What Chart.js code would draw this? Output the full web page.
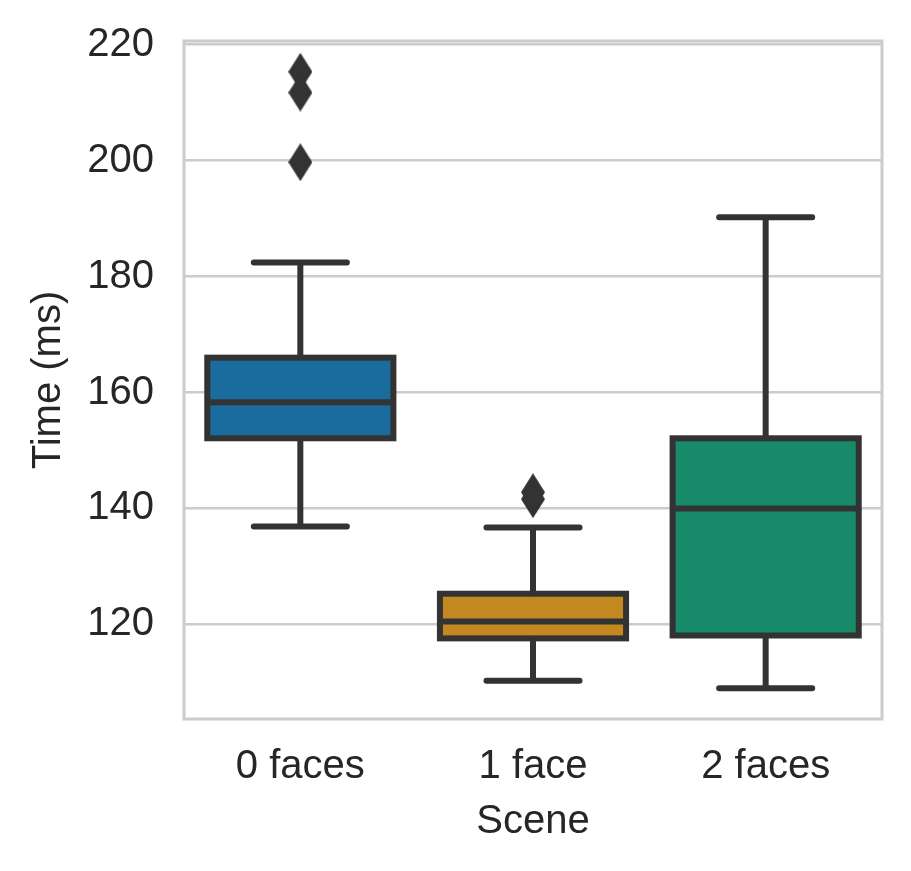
<!DOCTYPE html>
<html>
<head>
<meta charset="utf-8">
<script src="https://cdn.jsdelivr.net/npm/chart.js@4.4.1/dist/chart.umd.min.js"></script>
<style>
  html, body { margin: 0; padding: 0; background: #fff; }
  #wrap { width: 911px; height: 871px; }
</style>
</head>
<body>
<div id="wrap"><canvas id="box-chart" width="911" height="871"></canvas></div>
<script>
// Данные для боксплота
const scenes = ['0 faces', '1 face', '2 faces'];
const whiskerLow = [136.9, 110.3, 109.0];
const q1 = [152.1, 117.6, 118.1];
const median = [158.3, 120.5, 140.0];
const q3 = [166.0, 125.3, 152.1];
const whiskerHigh = [182.4, 136.7, 190.2];
const outlierScene = ['0 faces', '0 faces', '0 faces', '1 face', '1 face'];
const outlierValue = [215.3, 211.7, 199.7, 142.8, 141.6];
const yTicks = [120, 140, 160, 180, 200, 220];
const boxColors = ['#196c9c', '#c48820', '#178b6a'];

const lineColor = '#333333';
const textColor = '#262626';
const fontFamily = '"Liberation Sans", Arial, sans-serif';

// Тонкий ромб как у matplotlib ('d')
const diamond = document.createElement('canvas');
diamond.width = 24;
diamond.height = 38;
const dctx = diamond.getContext('2d');
dctx.fillStyle = lineColor;
dctx.beginPath();
dctx.moveTo(12, 0);
dctx.lineTo(24, 19);
dctx.lineTo(12, 38);
dctx.lineTo(0, 19);
dctx.closePath();
dctx.fill();

// Контур коробок, усы, медиана и рамка графика
const boxPlugin = {
  id: 'boxExtras',
  beforeDatasetsDraw(chart) {
    const {ctx, chartArea} = chart;
    ctx.save();
    ctx.strokeStyle = '#cccccc';
    ctx.lineWidth = 3;
    ctx.strokeRect(chartArea.left, chartArea.top, chartArea.right - chartArea.left, chartArea.bottom - chartArea.top);
    ctx.restore();
  },
  afterDatasetsDraw(chart) {
    const {ctx} = chart;
    const xs = chart.scales.x;
    const ys = chart.scales.y;
    const bars = chart.getDatasetMeta(0).data;
    ctx.save();
    ctx.strokeStyle = lineColor;
    ctx.lineWidth = 6;
    scenes.forEach((name, i) => {
      const cx = xs.getPixelForValue(i);
      const half = bars[i].width / 2;
      const yQ1 = ys.getPixelForValue(q1[i]);
      const yQ3 = ys.getPixelForValue(q3[i]);
      // контур коробки
      ctx.lineJoin = 'miter';
      ctx.strokeRect(cx - half, yQ3, half * 2, yQ1 - yQ3);
      // медиана
      ctx.lineCap = 'butt';
      ctx.beginPath();
      ctx.moveTo(cx - half, ys.getPixelForValue(median[i]));
      ctx.lineTo(cx + half, ys.getPixelForValue(median[i]));
      ctx.stroke();
      // усы
      ctx.beginPath();
      ctx.moveTo(cx, yQ3);
      ctx.lineTo(cx, ys.getPixelForValue(whiskerHigh[i]));
      ctx.moveTo(cx, yQ1);
      ctx.lineTo(cx, ys.getPixelForValue(whiskerLow[i]));
      ctx.stroke();
      // шапки усов
      ctx.lineCap = 'round';
      ctx.beginPath();
      ctx.moveTo(cx - half / 2, ys.getPixelForValue(whiskerHigh[i]));
      ctx.lineTo(cx + half / 2, ys.getPixelForValue(whiskerHigh[i]));
      ctx.moveTo(cx - half / 2, ys.getPixelForValue(whiskerLow[i]));
      ctx.lineTo(cx + half / 2, ys.getPixelForValue(whiskerLow[i]));
      ctx.stroke();
    });
    ctx.restore();
  }
};

const outliers = outlierScene.map((s, i) => ({x: s, y: outlierValue[i]}));

new Chart(document.getElementById('box-chart'), {
  type: 'bar',
  data: {
    labels: scenes,
    datasets: [{
      data: scenes.map((s, i) => [q1[i], q3[i]]),
      backgroundColor: boxColors,
      borderWidth: 0,
      barPercentage: 0.8,
      categoryPercentage: 1
    }, {
      type: 'scatter',
      data: outliers,
      pointStyle: diamond,
      pointRadius: 12,
      showLine: false
    }]
  },
  options: {
    responsive: false,
    animation: false,
    devicePixelRatio: 1,
    layout: { padding: { top: 41, right: 29, left: 0, bottom: 0 } },
    plugins: {
      legend: { display: false },
      tooltip: { enabled: false }
    },
    scales: {
      x: {
        grid: { display: false, drawTicks: false },
        border: { display: false },
        ticks: { color: textColor, padding: 24, font: { family: fontFamily, size: 40 } },
        title: {
          display: true, text: 'Scene', color: textColor,
          padding: { top: 0, bottom: 25 },
          font: { family: fontFamily, size: 40 }
        },
        afterFit(axis) {
          axis.height = 152;
          axis.paddingLeft = 0;
          axis.paddingRight = 0;
        }
      },
      y: {
        min: 103.7,
        max: 220.6,
        grid: { color: '#cccccc', lineWidth: 2.5, drawTicks: false },
        border: { display: false },
        ticks: { color: textColor, padding: 30, font: { family: fontFamily, size: 40 } },
        afterBuildTicks(axis) { axis.ticks = yTicks.map(v => ({value: v})); },
        title: {
          display: true, text: 'Time (ms)', color: textColor,
          padding: { top: 25, bottom: 0 },
          font: { family: fontFamily, size: 40 }
        },
        afterFit(axis) {
          axis.width = 184;
          axis.paddingTop = 0;
          axis.paddingBottom = 0;
        }
      }
    }
  },
  plugins: [boxPlugin]
});
</script>
</body>
</html>
